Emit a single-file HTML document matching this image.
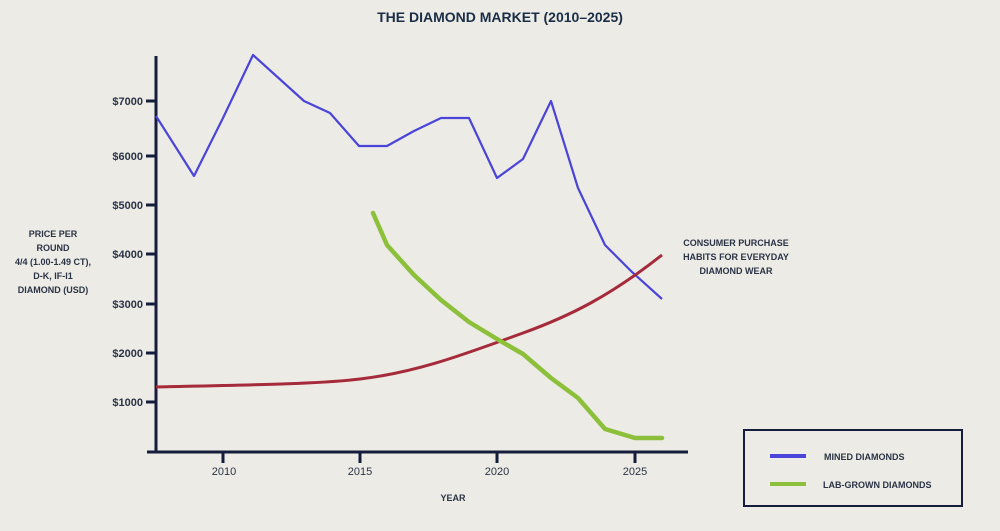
<!DOCTYPE html>
<html><head><style>
html,body{margin:0;padding:0;background:#ecebe6;}
svg{display:block;font-family:"Liberation Sans",sans-serif;}
</style></head><body>
<svg width="1000" height="531" viewBox="0 0 1000 531">
<rect width="1000" height="531" fill="#ecebe6"/>
<text x="500" y="22" text-anchor="middle" font-size="14" font-weight="bold" fill="#1a2d45">THE DIAMOND MARKET (2010–2025)</text>
<g stroke="#141e3c" stroke-width="3" fill="none">
<line x1="156" y1="56" x2="156" y2="453"/>
<line x1="147" y1="452" x2="688" y2="452"/>
<line x1="146" y1="101" x2="156" y2="101"/>
<line x1="146" y1="156" x2="156" y2="156"/>
<line x1="146" y1="205" x2="156" y2="205"/>
<line x1="146" y1="254" x2="156" y2="254"/>
<line x1="146" y1="304" x2="156" y2="304"/>
<line x1="146" y1="353" x2="156" y2="353"/>
<line x1="146" y1="402" x2="156" y2="402"/>
<line x1="223" y1="452" x2="223" y2="463"/>
<line x1="360" y1="452" x2="360" y2="463"/>
<line x1="497" y1="452" x2="497" y2="463"/>
<line x1="635" y1="452" x2="635" y2="463"/>
</g>
<g font-size="11" font-weight="bold" fill="#2a3345" text-anchor="end">
<text x="143" y="105">$7000</text><text x="143" y="160">$6000</text><text x="143" y="209">$5000</text>
<text x="143" y="258">$4000</text><text x="143" y="308">$3000</text><text x="143" y="357">$2000</text><text x="143" y="406">$1000</text>
</g>
<g font-size="11" fill="#2a3345" text-anchor="middle">
<text x="224" y="475">2010</text><text x="360" y="475">2015</text><text x="497" y="475">2020</text><text x="635" y="475">2025</text>
</g>
<g font-size="9" font-weight="bold" fill="#2a3345" text-anchor="middle">
<text x="53" y="237">PRICE PER</text><text x="53" y="251">ROUND</text><text x="53" y="265">4/4 (1.00-1.49 CT),</text>
<text x="53" y="279">D-K, IF-I1</text><text x="53" y="293">DIAMOND (USD)</text>
<text x="736" y="246">CONSUMER PURCHASE</text><text x="736" y="260">HABITS FOR EVERYDAY</text><text x="736" y="274">DIAMOND WEAR</text>
<text x="453" y="501">YEAR</text>
</g>
<polyline fill="none" stroke="#4a44d8" stroke-width="2.2" stroke-linejoin="round" points="156,116 194,176 223,118 253,55 304,101 330,113 359,146 387,146 414,131 441,118 469,118 497,178 523,159 551,101 578,188 605,245 632,272 662,299"/>
<path fill="none" stroke="#a52a3a" stroke-width="3" d="M156,387 C250,385 320,384 360,379 C420,372 470,352 523,333 C570,316 610,296 662,255"/>
<polyline fill="none" stroke="#8cbf3a" stroke-width="4.5" stroke-linejoin="round" stroke-linecap="round" points="373,213 387,245 414,275 441,300 469,322 497,339 523,354 551,378 578,398 605,429 635,438 662,438"/>
<rect x="744" y="430" width="218" height="76" fill="none" stroke="#141e3c" stroke-width="2"/>
<line x1="770" y1="456" x2="806" y2="456" stroke="#4a44d8" stroke-width="4"/>
<line x1="770" y1="484" x2="806" y2="484" stroke="#8cbf3a" stroke-width="4"/>
<g font-size="9" font-weight="bold" fill="#2a3345">
<text x="824" y="460">MINED DIAMONDS</text><text x="823" y="488">LAB-GROWN DIAMONDS</text>
</g>
</svg>
</body></html>
